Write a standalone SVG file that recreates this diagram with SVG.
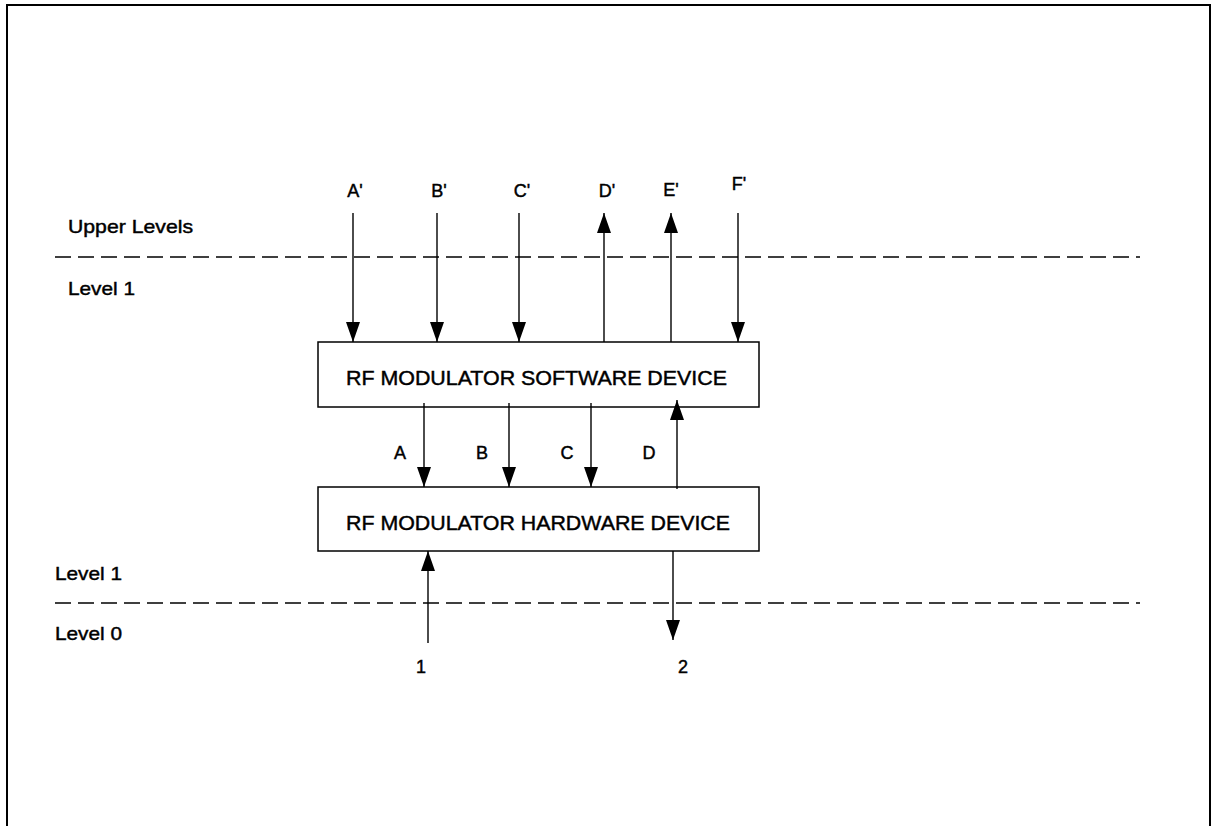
<svg xmlns="http://www.w3.org/2000/svg" width="1213" height="826" viewBox="0 0 1213 826">
<style>
text{font-family:"Liberation Sans",Arial,sans-serif;fill:#000;stroke:#000;stroke-width:0.45}
.lbl{font-size:18px}
.lvl{font-size:19px}
.box{fill:#fff;stroke:#000;stroke-width:1.5}
.boxt{font-size:21px}
.con{stroke:#000;stroke-width:1.4;fill:none;marker-end:url(#ah)}
.dash{stroke:#000;stroke-width:1.3;stroke-dasharray:16 7;fill:none}
</style>
<defs>
<marker id="ah" markerUnits="userSpaceOnUse" markerWidth="20" markerHeight="14" refX="20" refY="7" orient="auto">
<path d="M0,0 L20,7 L0,14 z" fill="#000"/>
</marker>
</defs>
<rect width="1213" height="826" fill="#fff"/>
<path d="M7,826 V5 H1210 V826" fill="none" stroke="#000" stroke-width="2"/>
<g id="levels">
<line class="dash" x1="55" y1="257" x2="1140" y2="257"/>
<line class="dash" x1="55" y1="603" x2="1140" y2="603"/>
<text class="lvl" x="68" y="233" textLength="125" lengthAdjust="spacingAndGlyphs">Upper Levels</text>
<text class="lvl" x="68" y="295" textLength="67" lengthAdjust="spacingAndGlyphs">Level 1</text>
<text class="lvl" x="55" y="580" textLength="67" lengthAdjust="spacingAndGlyphs">Level 1</text>
<text class="lvl" x="55" y="640" textLength="67" lengthAdjust="spacingAndGlyphs">Level 0</text>
</g>
<g id="software">
<rect class="box" x="318" y="342" width="441" height="65"/>
<text class="boxt" x="346" y="385" textLength="381" lengthAdjust="spacingAndGlyphs">RF MODULATOR SOFTWARE DEVICE</text>
</g>
<g id="hardware">
<rect class="box" x="318" y="487" width="441" height="64"/>
<text class="boxt" x="346" y="530" textLength="384" lengthAdjust="spacingAndGlyphs">RF MODULATOR HARDWARE DEVICE</text>
</g>
<g id="connectors">
<line class="con" x1="353" y1="213" x2="353" y2="342"/>
<line class="con" x1="437" y1="213" x2="437" y2="342"/>
<line class="con" x1="519" y1="213" x2="519" y2="342"/>
<line class="con" x1="604" y1="342" x2="604" y2="213"/>
<line class="con" x1="671" y1="342" x2="671" y2="213"/>
<line class="con" x1="738" y1="213" x2="738" y2="342"/>
<line class="con" x1="424" y1="403" x2="424" y2="487"/>
<line class="con" x1="509" y1="403" x2="509" y2="487"/>
<line class="con" x1="591" y1="403" x2="591" y2="487"/>
<line class="con" x1="677" y1="489" x2="677" y2="400"/>
<line class="con" x1="428" y1="643" x2="428" y2="551"/>
<line class="con" x1="673" y1="551" x2="673" y2="640"/>
</g>
<g id="labels">
<text class="lbl" x="355" y="197" text-anchor="middle">A'</text>
<text class="lbl" x="439" y="197" text-anchor="middle">B'</text>
<text class="lbl" x="522" y="197" text-anchor="middle">C'</text>
<text class="lbl" x="607" y="197" text-anchor="middle">D'</text>
<text class="lbl" x="671" y="196" text-anchor="middle">E'</text>
<text class="lbl" x="739" y="190" text-anchor="middle">F'</text>
<text class="lbl" x="400" y="459" text-anchor="middle">A</text>
<text class="lbl" x="482" y="459" text-anchor="middle">B</text>
<text class="lbl" x="567" y="459" text-anchor="middle">C</text>
<text class="lbl" x="649" y="459" text-anchor="middle">D</text>
<text class="lbl" x="421" y="673" text-anchor="middle">1</text>
<text class="lbl" x="683" y="673" text-anchor="middle">2</text>
</g>
</svg>
